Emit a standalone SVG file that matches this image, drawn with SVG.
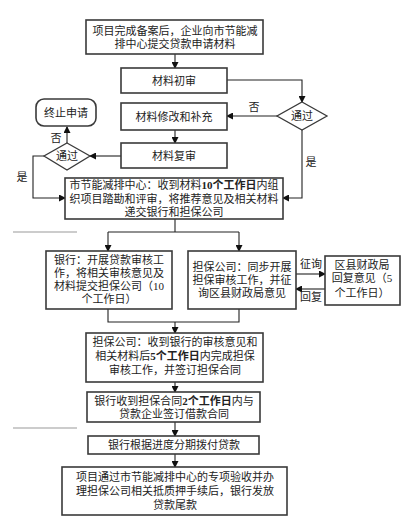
<svg xmlns="http://www.w3.org/2000/svg" width="403" height="516" viewBox="0 0 403 516">
<defs>
<marker id="ah" markerWidth="7" markerHeight="7" refX="6" refY="3.5" orient="auto" markerUnits="userSpaceOnUse">
<path d="M0,0 L7,3.5 L0,7 Z" fill="#111"/>
</marker>
<style>
.box{fill:#fff;stroke:#3a3a3a;stroke-width:1.6}
.dia{fill:#fff;stroke:#3a3a3a;stroke-width:1.3}
.t{font-family:"Liberation Serif","Noto Sans CJK SC",serif;font-size:11px;fill:#222;text-anchor:middle}
.lb{font-family:"Liberation Serif","Noto Sans CJK SC",serif;font-size:11px;fill:#222;text-anchor:middle}
.c{fill:none;stroke:#222;stroke-width:1.1}
.ca{fill:none;stroke:#222;stroke-width:1.1;marker-end:url(#ah)}
.deco{stroke:#9a9a9a;stroke-width:1.2}
</style>
</defs>
<rect width="403" height="516" fill="#fff"/>

<g id="connectors">
<line class="ca" x1="175" y1="54" x2="175" y2="68"/>
<polyline class="ca" points="227,80 302,80 302,102"/>
<line class="ca" x1="278" y1="116" x2="227" y2="116"/>
<line class="ca" x1="175" y1="130" x2="175" y2="143"/>
<line class="ca" x1="121" y1="156" x2="90" y2="156"/>
<line class="ca" x1="67" y1="143" x2="67" y2="127"/>
<polyline class="ca" points="44,156 33,156 33,198 65,198"/>
<polyline class="ca" points="302,130 302,198 283,198"/>
<polyline class="c" points="175,219 175,232"/>
<line class="c" x1="108" y1="232" x2="239" y2="232"/>
<line class="ca" x1="108" y1="232" x2="108" y2="251"/>
<line class="ca" x1="239" y1="232" x2="239" y2="251"/>
<line class="ca" x1="296" y1="274" x2="325" y2="274"/>
<line class="ca" x1="325" y1="289" x2="296" y2="289"/>
<polyline class="c" points="108,309 108,322 239,322 239,309"/>
<line class="ca" x1="175" y1="322" x2="175" y2="333"/>
<line class="ca" x1="175" y1="382" x2="175" y2="392"/>
<line class="ca" x1="175" y1="422" x2="175" y2="436"/>
<line class="ca" x1="175" y1="454" x2="175" y2="467"/>
<text class="lb" x="254" y="111">否</text>
<text class="lb" x="56" y="142">否</text>
<text class="lb" x="22" y="181">是</text>
<text class="lb" x="311" y="166">是</text>
<text class="lb" x="311" y="268">征询</text>
<text class="lb" x="311" y="301">回复</text>
</g>

<line class="deco" x1="13" y1="232" x2="77" y2="232"/>
<line class="deco" x1="13" y1="428" x2="77" y2="428"/>

<g id="n1">
<rect class="box" x="86" y="20" width="177" height="34"/>
<text class="t" x="175" y="35">项目完成备案后，企业向市节能减</text>
<text class="t" x="175" y="48">排中心提交贷款申请材料</text>
</g>
<g id="n2">
<rect class="box" x="121" y="68" width="106" height="25"/>
<text class="t" x="174" y="85">材料初审</text>
</g>
<g id="d1">
<polygon class="dia" points="302,102 327,116 302,130 277,116"/>
<text class="t" x="302" y="120">通过</text>
</g>
<g id="n3">
<rect class="box" x="121" y="103" width="106" height="27"/>
<text class="t" x="174" y="121">材料修改和补充</text>
</g>
<g id="n4">
<rect class="box" x="121" y="143" width="106" height="25"/>
<text class="t" x="174" y="160">材料复审</text>
</g>
<g id="d2">
<polygon class="dia" points="67,143 90,156 67,170 44,156"/>
<text class="t" x="67" y="160">通过</text>
</g>
<g id="n5">
<rect class="box" x="36" y="99" width="60" height="27" rx="8"/>
<text class="t" x="66" y="117">终止申请</text>
</g>
<g id="n6">
<rect class="box" x="65" y="178" width="218" height="41"/>
<text class="t" x="174" y="189">市节能减排中心：收到材料<tspan font-weight="bold">10个工作日</tspan>内组</text>
<text class="t" x="174" y="203">织项目踏勘和评审，将推荐意见及相关材料</text>
<text class="t" x="174" y="216">递交银行和担保公司</text>
</g>
<g id="n7">
<rect class="box" x="46" y="251" width="126" height="58"/>
<text class="t" x="109" y="264">银行：开展贷款审核工</text>
<text class="t" x="109" y="277">作，将相关审核意见及</text>
<text class="t" x="109" y="290">材料提交担保公司（10</text>
<text class="t" x="109" y="303">个工作日）</text>
</g>
<g id="n8">
<rect class="box" x="188" y="251" width="108" height="58"/>
<text class="t" x="242" y="271">担保公司：同步开展</text>
<text class="t" x="242" y="284">担保审核工作，并征</text>
<text class="t" x="242" y="297">询区县财政局意见</text>
</g>
<g id="n9">
<rect class="box" x="325" y="256" width="75" height="49"/>
<text class="t" x="362" y="269">区县财政局</text>
<text class="t" x="362" y="282">回复意见（5</text>
<text class="t" x="362" y="297">个工作日）</text>
</g>
<g id="n10">
<rect class="box" x="86" y="333" width="177" height="49"/>
<text class="t" x="175" y="346">担保公司：收到银行的审核意见和</text>
<text class="t" x="175" y="360">相关材料后<tspan font-weight="bold">5个工作日</tspan>内完成担保</text>
<text class="t" x="175" y="374">审核工作，并签订担保合同</text>
</g>
<g id="n11">
<rect class="box" x="87" y="392" width="173" height="30"/>
<text class="t" x="174" y="405">银行收到担保合同<tspan font-weight="bold">2个工作日</tspan>内与</text>
<text class="t" x="174" y="418">贷款企业签订借款合同</text>
</g>
<g id="n12">
<rect class="box" x="88" y="436" width="171" height="18"/>
<text class="t" x="174" y="449">银行根据进度分期拨付贷款</text>
</g>
<g id="n13">
<rect class="box" x="62" y="467" width="225" height="48"/>
<text class="t" x="175" y="481">项目通过市节能减排中心的专项验收并办</text>
<text class="t" x="175" y="495">理担保公司相关抵质押手续后，银行发放</text>
<text class="t" x="175" y="509">贷款尾款</text>
</g>
</svg>
